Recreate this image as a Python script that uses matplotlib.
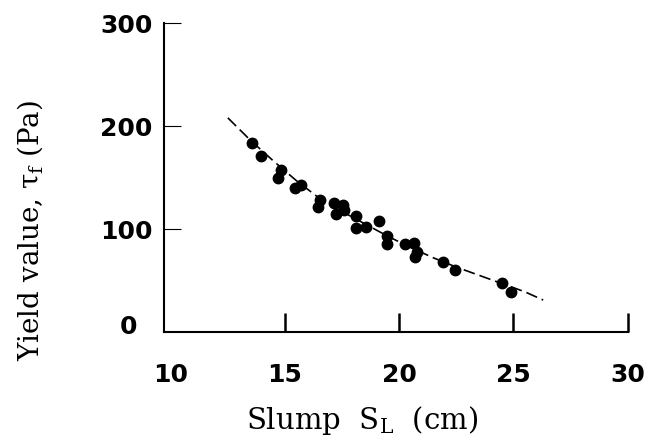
import matplotlib
matplotlib.use('Agg')
import matplotlib.pyplot as plt
import matplotlib.transforms as mtransforms

# ----------------------------
# Data
# ----------------------------
slump = [13.56, 13.95, 14.81, 14.71, 15.43, 15.72, 16.52, 16.44, 17.16, 17.52,
         17.24, 17.60, 18.10, 18.10, 18.54, 19.11, 19.47, 19.47, 20.27, 20.63,
         20.70, 20.77, 21.93, 22.43, 24.48, 24.91]
yield_val = [184, 171, 157, 150, 140, 143, 128, 121, 125, 123,
             115, 118, 113, 101, 102, 108, 93, 85, 85, 86,
             73, 78, 68, 60, 48, 39]

curve_x = [12.5, 13.5, 14.5, 15.5, 16.5, 17.5, 18.5, 19.5, 20.5, 21.5, 22.5, 23.5, 24.5, 25.5, 26.3]
curve_y = [208, 186, 166, 147, 130, 117, 105, 93, 82, 72, 63, 55, 47, 39, 31]

x_ticks = [10, 15, 20, 25, 30]
y_ticks = [0, 100, 200, 300]

plt.rcParams['mathtext.fontset'] = 'custom'
plt.rcParams['mathtext.rm'] = 'DejaVu Serif'
plt.rcParams['mathtext.it'] = 'DejaVu Serif'

fig = plt.figure(figsize=(6.58, 4.45), dpi=100)
ax = fig.add_axes([0.249, 0.254, 0.705, 0.694])

ax.plot(curve_x, curve_y, color='black', lw=1.2, linestyle=(0, (7, 3)))
ax.plot(slump, yield_val, 'o', color='black', markersize=7.5)

ax.set_xlim(9.7, 30)
ax.set_ylim(0, 300)
ax.set_xticks(x_ticks)
ax.set_yticks(y_ticks)
ax.set_xticklabels([str(t) for t in x_ticks], fontsize=18, fontweight='bold',
                   family='DejaVu Sans')
ax.set_yticklabels([str(t) for t in y_ticks], fontsize=18, fontweight='bold',
                   family='DejaVu Sans')

for s in ['top', 'right']:
    ax.spines[s].set_visible(False)
ax.spines['left'].set_linewidth(1.5)
ax.spines['bottom'].set_linewidth(1.5)

ax.tick_params(axis='x', direction='in', length=14, width=1.8, pad=22)
ax.tick_params(axis='y', direction='in', length=12, width=0.8, pad=8)
ax.xaxis.get_major_ticks()[0].tick1line.set_visible(False)
ax.yaxis.get_major_ticks()[0].tick1line.set_visible(False)

# the "0" label sits a bit left of and above the others
zero_lab = ax.get_yticklabels()[0]
zero_lab.set_transform(zero_lab.get_transform() +
                       mtransforms.ScaledTranslation(-0.15, 0.07, fig.dpi_scale_trans))

fig.text(0.55, 0.054, r'Slump  S$_{\mathrm{L}}$  (cm)', fontsize=21,
         family='DejaVu Serif', ha='center', va='center')
fig.text(0.045, 0.483, r'Yield value, $\tau_{\mathrm{f}}$ (Pa)', fontsize=20,
         family='DejaVu Serif', ha='center', va='center', rotation=90)

plt.savefig("out.png")
